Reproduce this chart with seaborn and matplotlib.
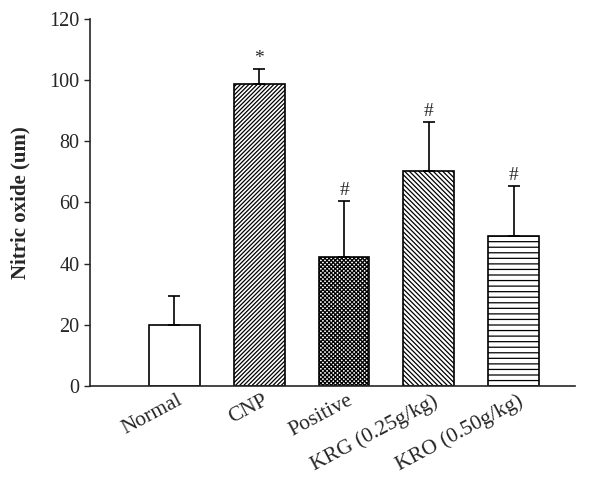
import numpy as np
import pandas as pd
import seaborn as sns
from matplotlib import pyplot as plt
from matplotlib import transforms

groups = ['Normal', 'CNP', 'Positive', 'KRG (0.25g/kg)', 'KRO (0.50g/kg)']
means = [20, 98.7, 42.2, 70.2, 49]
errors = [9.5, 4.8, 18.4, 16.0, 16.4]
marks = ['', '*', '#', '#', '#']
hatches = ['', '////////', 'xxxxxxxx', '\\\\\\\\\\\\\\', '---']

sns.set_style('ticks')
plt.rcParams['font.family'] = ['Liberation Serif', 'DejaVu Serif']
plt.rcParams['hatch.linewidth'] = 0.9

df = pd.DataFrame({'group': groups, 'value': means})

fig = plt.figure(figsize=(6.13, 4.82), dpi=100)
ax = fig.add_axes([0.147, 0.199, 0.791, 0.762])
sns.barplot(data=df, x='group', y='value', color='white', edgecolor='black',
            linewidth=1.2, width=0.6, errorbar=None, ax=ax)
for patch, h in zip(ax.patches, hatches):
    patch.set_hatch(h)

x = np.arange(len(groups))
ax.errorbar(x, means, yerr=[np.zeros(len(errors)), errors], fmt='none',
            ecolor='black', elinewidth=1.2, capsize=4, capthick=1.2)
for xi, m, e, s in zip(x, means, errors, marks):
    if s:
        ax.text(xi, m + e + 0.6, s, ha='center', va='bottom', fontsize=14)

ax.set_xlim(-0.99, 4.72)
ax.set_ylim(0, 120)
ax.set_yticks(range(0, 121, 20))
ax.set_xlabel('')
ax.set_ylabel('Nitric oxide (um)', fontsize=15, fontweight='bold', labelpad=14)
ax.tick_params(axis='y', labelsize=14.5, length=4, width=1)
ax.tick_params(axis='x', length=0, labelsize=15.5)
shift = transforms.ScaledTranslation(3 / 100, 0, fig.dpi_scale_trans)
for lab in ax.get_xticklabels():
    lab.set_rotation(28)
    lab.set_ha('right')
    lab.set_rotation_mode('anchor')
    lab.set_transform(lab.get_transform() + shift)
sns.despine(ax=ax)
for sp in ['left', 'bottom']:
    ax.spines[sp].set_linewidth(1.2)

fig.savefig('out.png', dpi=100)
